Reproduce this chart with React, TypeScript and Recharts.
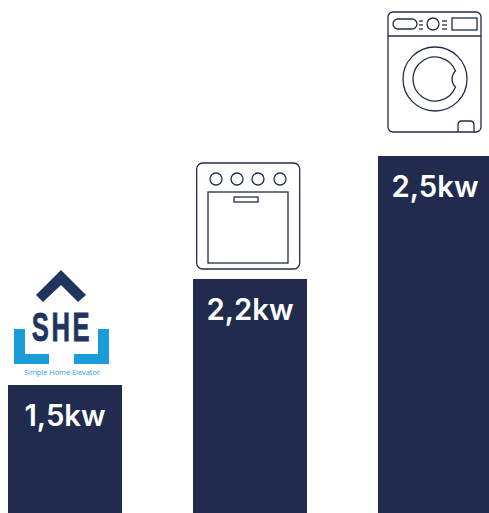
import React from 'react';
import { BarChart, Bar, XAxis, YAxis, LabelList } from 'recharts';

const categories = ['Simple Home Elevator', 'Oven', 'Washing machine'];
const barHeights = [128, 234, 357];
const powerLabels = ['1,5kw', '2,2kw', '2,5kw'];

const NAVY = '#212b4e';
const LOGO_NAVY = '#1f3560';
const LOGO_BLUE = '#1a9cd9';

const chartData = categories.map((name, i) => ({
  name,
  height: barHeights[i],
  label: powerLabels[i],
}));

const LogoIcon = () => (
  <g>
    <polygon points="47,0 22,25 29,32 47,15 64,32 72,25" fill={LOGO_NAVY} />
    <text transform="translate(48,71) scale(0.64,1)" textAnchor="middle" fill={LOGO_NAVY} stroke={LOGO_NAVY} strokeWidth={0.8} letterSpacing={4} fontFamily="'Liberation Sans'" fontWeight={700} fontSize={40}>
      SHE
    </text>
    <polygon points="0,59 11,59 11,84 35,84 35,94 0,94" fill={LOGO_BLUE} />
    <polygon points="60,84 84,84 84,59 95,59 95,94 60,94" fill={LOGO_BLUE} />
    <text x={48} y={104.5} textAnchor="middle" fill="#2f9fdc" fontFamily="'Open Sans'" fontWeight={500} fontSize={7.5} textLength={76}>
      Simple Home Elevator
    </text>
  </g>
);

const OvenIcon = () => (
  <g fill="none" stroke={NAVY} strokeWidth={1.3}>
    <rect x={0.7} y={0} width={103} height={106} rx={6} />
    {[20, 41, 62, 84].map(cx => (
      <circle key={cx} cx={cx} cy={16} r={6} />
    ))}
    <rect x={12} y={29} width={80} height={71} />
    <rect x={38} y={34} width={24} height={5} />
  </g>
);

const WasherIcon = () => (
  <g fill="none" stroke={NAVY} strokeWidth={1.3}>
    <rect x={0} y={0} width={93} height={120} rx={5} />
    <line x1={0} y1={24} x2={93} y2={24} />
    <rect x={5} y={7} width={24} height={10} rx={5} />
    {[9, 13, 17].map(y => (
      <line key={y} x1={31} y1={y} x2={35} y2={y} />
    ))}
    <circle cx={45} cy={12} r={6} />
    {[9, 13, 17].map(y => (
      <line key={y} x1={54} y1={y} x2={59} y2={y} />
    ))}
    <rect x={64} y={6} width={25} height={12} />
    <circle cx={47} cy={67} r={32} />
    <path d="M67.5 59 A22 22 0 1 0 67.5 75 A11 11 0 0 1 67.5 59 Z" />
    <path d="M70 120 V113 q0 -4 4 -4 h8 q4 0 4 4 v7" />
  </g>
);

// icon plus its offset from the top left corner of the bar
const icons = [
  { node: <LogoIcon />, dx: 6, dy: -115 },
  { node: <OvenIcon />, dx: 3, dy: -116 },
  { node: <WasherIcon />, dx: 10, dy: -144 },
];

const renderIcon = ({ x, y, index }: any) => {
  const icon = icons[index];
  return (
    <g transform={`translate(${x + icon.dx},${y + icon.dy})`}>{icon.node}</g>
  );
};

const App: React.FC = () => (
  <div style={{ position: 'absolute', left: 0, top: 0, width: 489, height: 513, overflow: 'hidden', background: '#fff' }}>
    <div style={{ position: 'absolute', left: -28, top: 0 }}>
      <BarChart
        width={555}
        height={513}
        data={chartData}
        margin={{ top: 0, right: 0, bottom: 0, left: 0 }}
      >
        <XAxis dataKey="name" hide />
        <YAxis hide domain={[0, 513]} />
        <Bar dataKey="height" fill={NAVY} barSize={114} isAnimationActive={false}>
          <LabelList dataKey="label" content={renderIcon} />
          <LabelList
            dataKey="label"
            position="insideTop"
            offset={20}
            fill="#ffffff"
            style={{ fontFamily: 'Inter', fontSize: 29.3, fontWeight: 600 }}
          />
        </Bar>
      </BarChart>
    </div>
  </div>
);

export default App;
